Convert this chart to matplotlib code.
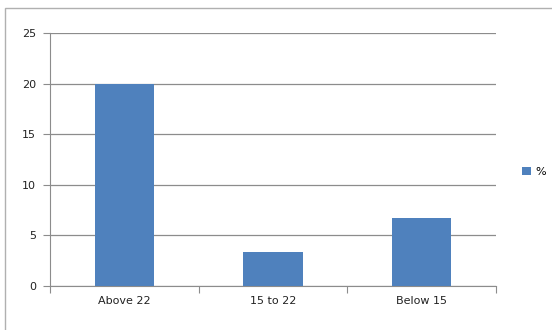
import numpy as np
import matplotlib.pyplot as plt
from matplotlib.patches import Rectangle

categories = ["Above 22", "15 to 22", "Below 15"]
values = [20, 3.33, 6.67]
series_name = "%"

fig = plt.figure(figsize=(5.52, 3.30), dpi=100)
# outer chart border (runs off the right and bottom edge)
fig.patches.append(Rectangle((5/552, -0.05), 1.0, 1 - 8/330 + 0.05, transform=fig.transFigure,
                             fill=False, edgecolor="#b0b0b0", linewidth=1.0))

ax = fig.add_axes([50/552, 44/330, 446/552, 253/330])
x = np.arange(len(categories))
bars = ax.bar(x, values, width=0.4, color="#4F81BD", label=series_name, zorder=3)

ax.set_xlim(-0.5, 2.5)
ax.set_ylim(0, 25)
ax.set_yticks([0, 5, 10, 15, 20, 25])
ax.yaxis.grid(True, color="#8c8c8c", linewidth=0.9, zorder=0)

ax.set_xticks([-0.5, 0.5, 1.5, 2.5])
ax.set_xticklabels([])
ax.set_xticks(x, minor=True)
ax.set_xticklabels(categories, minor=True)
ax.tick_params(axis="x", which="minor", length=0, pad=7)
ax.tick_params(axis="x", which="major", length=5, color="#8c8c8c", direction="out")
ax.tick_params(axis="y", length=5, color="#8c8c8c", direction="out", pad=5)
for lab in ax.get_xticklabels(minor=True) + ax.get_yticklabels():
    lab.set_fontsize(8)
    lab.set_color("#222222")

for s in ["top", "right"]:
    ax.spines[s].set_visible(False)
ax.spines["left"].set_color("#8c8c8c")
ax.spines["bottom"].set_color("#8c8c8c")

fig.legend(handles=[bars], labels=[series_name], loc="center left",
           bbox_to_anchor=(512/552, 1 - 172/330), frameon=False, fontsize=8,
           handlelength=0.8, handleheight=0.8, handletextpad=0.4)

plt.savefig("out.png", dpi=100)
